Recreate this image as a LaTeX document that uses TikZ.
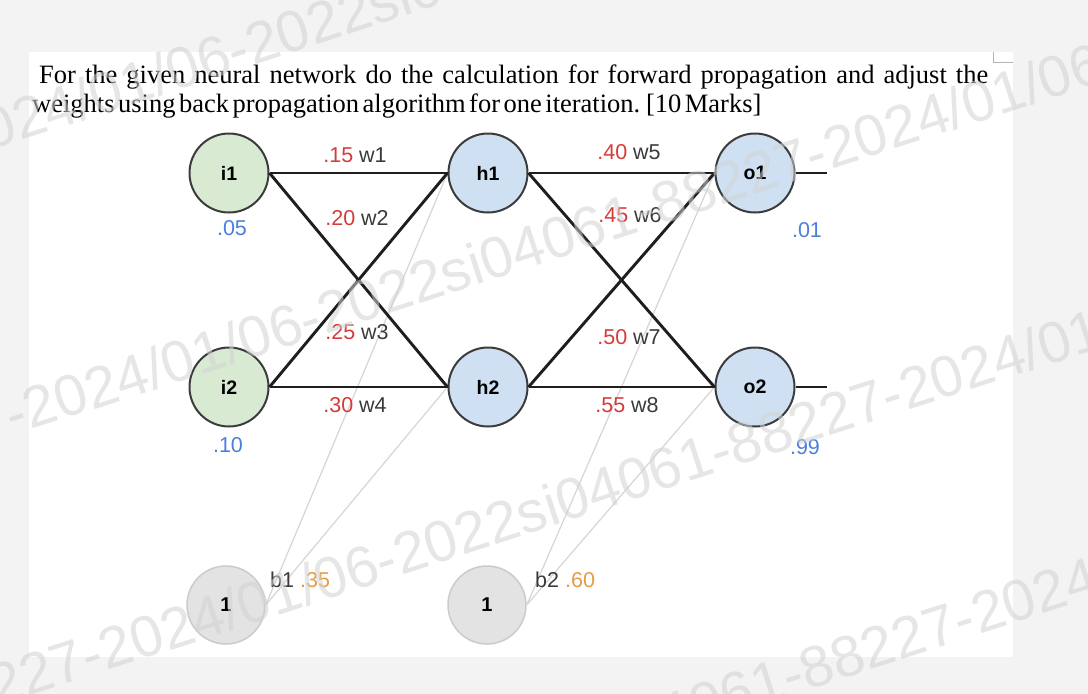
\documentclass[tikz,border=0pt]{standalone}
\usepackage{fontspec}
\setmainfont{Liberation Serif}
\setsansfont{Liberation Sans}
\newfontfamily\arialf{Liberation Sans}
\definecolor{bgc}{HTML}{F3F3F3}
\definecolor{cornc}{HTML}{B4B4B4}
\definecolor{wred}{HTML}{D63B3B}
\definecolor{wgray}{HTML}{3A3A3A}
\definecolor{valblue}{HTML}{4A7FDB}
\definecolor{borange}{HTML}{E69B45}
\definecolor{ingreen}{HTML}{D9EAD3}
\definecolor{hblue}{HTML}{CFE0F3}
\definecolor{nborder}{HTML}{3C3C3C}
\definecolor{bfill}{HTML}{E3E3E3}
\definecolor{bborder}{HTML}{CBCBCB}
\definecolor{edgec}{HTML}{1E1E1E}
\definecolor{blinec}{HTML}{D6D6D6}
\definecolor{wmc}{HTML}{D2D2D2}
\newcommand\wmunit{-2024/01/06-2022si04061-88227}
\begin{document}
\begin{tikzpicture}[x=1pt,y=-1pt,
  neu/.style={circle, minimum size=79pt, inner sep=0pt, line width=2pt, draw=nborder,
    font=\arialf\bfseries\fontsize{19.5}{20}\selectfont},
  inp/.style={neu, fill=ingreen},
  hid/.style={neu, fill=hblue},
  biasnode/.style={circle, minimum size=78pt, inner sep=0pt, line width=1.5pt, draw=bborder,
    fill=bfill, font=\arialf\bfseries\fontsize{20}{20}\selectfont},
  edgeline/.style={line width=2.9pt, draw=edgec},
  bline/.style={line width=1.2pt, draw=blinec},
  wt/.style={font=\arialf\fontsize{21.5}{22}\selectfont, inner sep=0pt},
  val/.style={wt, text=valblue},
  ttl/.style={anchor=base west, inner sep=0pt, font=\fontsize{26.5}{30}\selectfont},
  wm/.style={anchor=base west, inner sep=0pt, rotate=18, font=\arialf\fontsize{58}{58}\selectfont,
    text=wmc, text opacity=0.55}
]
\useasboundingbox (0,0) rectangle (1088,694);
\clip (0,0) rectangle (1088,694);
\fill[bgc] (0,0) rectangle (1088,694);
\fill[white] (29,52) rectangle (1013,657);
\draw[cornc, line width=1pt] (993,52) -- (993,62) -- (1013,62);

% title
\node[ttl] (t1) at (39,83) {\makebox[949pt][s]{For the given neural network do the calculation for forward propagation and adjust the}};
\node[ttl] (t2) at (32,112) {\spaceskip=3.5pt weights using back propagation algorithm for one iteration. [10 Marks]};

% nodes
\node[inp] (i1) at (229,173) {i1};
\node[inp] (i2) at (229,387) {i2};
\node[hid] (h1) at (488,173) {h1};
\node[hid] (h2) at (488,387) {h2};
\node[hid] (o1) at (755,173) {o1};
\node[hid] (o2) at (755,387) {o2};
\node[biasnode] (b1) at (226,605) {1};
\node[biasnode] (b2) at (487,605) {1};
\coordinate (out1) at (827,173);
\coordinate (out2) at (827,387);

% bias connectors
\draw[bline] (b1.east) -- (h1.west);
\draw[bline] (b1.east) -- (h2.west);
\draw[bline] (b2.east) -- (o1.west);
\draw[bline] (b2.east) -- (o2.west);

% weights
\draw[edgeline] (i1.east) -- (h1.west);
\draw[edgeline] (i1.east) -- (h2.west);
\draw[edgeline] (i2.east) -- (h1.west);
\draw[edgeline] (i2.east) -- (h2.west);
\draw[edgeline] (h1.east) -- (o1.west);
\draw[edgeline] (h1.east) -- (o2.west);
\draw[edgeline] (h2.east) -- (o1.west);
\draw[edgeline] (h2.east) -- (o2.west);
\draw[edgeline] (o1.east) -- (out1);
\draw[edgeline] (o2.east) -- (out2);

% weight labels
\node[wt] (lw1) at (355,155) {\textcolor{wred}{.15} \textcolor{wgray}{w1}};
\node[wt] (lw2) at (357,218) {\textcolor{wred}{.20} \textcolor{wgray}{w2}};
\node[wt] (lw3) at (357,332) {\textcolor{wred}{.25} \textcolor{wgray}{w3}};
\node[wt] (lw4) at (355,405) {\textcolor{wred}{.30} \textcolor{wgray}{w4}};
\node[wt] (lw5) at (629,152) {\textcolor{wred}{.40} \textcolor{wgray}{w5}};
\node[wt] (lw6) at (630,215) {\textcolor{wred}{.45} \textcolor{wgray}{w6}};
\node[wt] (lw7) at (629,337) {\textcolor{wred}{.50} \textcolor{wgray}{w7}};
\node[wt] (lw8) at (627,405) {\textcolor{wred}{.55} \textcolor{wgray}{w8}};

% values
\node[val] (v1) at (232,228) {.05};
\node[val] (v2) at (228,445) {.10};
\node[val] (v3) at (807,230) {.01};
\node[val] (v4) at (805,447) {.99};

% bias labels
\node[wt, anchor=west] (bl1) at (270,580) {\textcolor{wgray}{b1} \textcolor{borange}{.35}};
\node[wt, anchor=west] (bl2) at (535,580) {\textcolor{wgray}{b2} \textcolor{borange}{.60}};

% watermark
\node[wm] (wmA) at (-860,427) {\wmunit\wmunit\wmunit};
\node[wm] (wmB) at (-788,696) {\wmunit\wmunit\wmunit};
\node[wm] (wmC) at (-712,937) {\wmunit\wmunit\wmunit};
\node[wm] (wmD) at (-640,1161) {\wmunit\wmunit\wmunit};
\end{tikzpicture}
\end{document}
